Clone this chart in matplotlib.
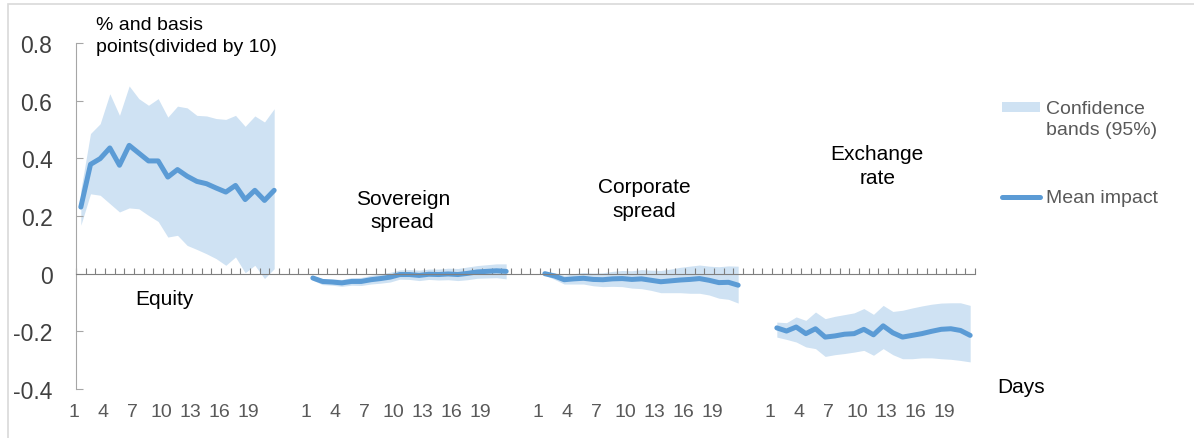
import numpy as np
import matplotlib
matplotlib.use("Agg")
import matplotlib.pyplot as plt
from matplotlib.patches import Rectangle
from matplotlib.lines import Line2D
from matplotlib.transforms import ScaledTranslation

plt.rcParams['font.family'] = ['Liberation Sans', 'DejaVu Sans']

# 数据
days = list(range(1, 22))
tick_days = [1, 4, 7, 10, 13, 16, 19]
panels = ['Equity', 'Sovereign\nspread', 'Corporate\nspread', 'Exchange\nrate']

equity_mean = [0.231, 0.379, 0.399, 0.436, 0.376, 0.445, 0.418, 0.391, 0.391, 0.335, 0.361,
               0.338, 0.320, 0.312, 0.297, 0.283, 0.306, 0.257, 0.289, 0.254, 0.289]
equity_upper = [0.290, 0.486, 0.520, 0.624, 0.549, 0.651, 0.607, 0.584, 0.607, 0.543, 0.581,
                0.575, 0.549, 0.547, 0.538, 0.535, 0.549, 0.511, 0.547, 0.526, 0.572]
equity_lower = [0.168, 0.277, 0.272, 0.243, 0.214, 0.228, 0.225, 0.202, 0.181, 0.127, 0.133,
                0.098, 0.084, 0.069, 0.052, 0.029, 0.058, 0.003, 0.029, -0.017, 0.017]

sov_mean = [-0.015, -0.027, -0.029, -0.032, -0.027, -0.027, -0.021, -0.017, -0.012, -0.003, -0.003,
            -0.006, -0.002, -0.003, -0.001, -0.003, 0.001, 0.006, 0.008, 0.010, 0.008]
sov_upper = [-0.007, -0.017, -0.018, -0.020, -0.014, -0.013, -0.006, -0.001, 0.005, 0.013, 0.014,
             0.012, 0.016, 0.016, 0.019, 0.018, 0.023, 0.028, 0.031, 0.034, 0.034]
sov_lower = [-0.023, -0.038, -0.040, -0.044, -0.040, -0.041, -0.036, -0.033, -0.029, -0.019, -0.020,
             -0.024, -0.020, -0.022, -0.021, -0.024, -0.021, -0.016, -0.015, -0.014, -0.018]

corp_mean = [0.000, -0.008, -0.021, -0.018, -0.016, -0.020, -0.021, -0.018, -0.017, -0.020, -0.018,
             -0.023, -0.028, -0.025, -0.022, -0.020, -0.017, -0.023, -0.031, -0.030, -0.040]
corp_upper = [0.005, 0.004, -0.006, 0.000, 0.004, 0.002, 0.003, 0.008, 0.011, 0.010, 0.014,
              0.012, 0.011, 0.016, 0.022, 0.026, 0.030, 0.026, 0.024, 0.027, 0.026]
corp_lower = [-0.005, -0.020, -0.036, -0.036, -0.036, -0.042, -0.045, -0.044, -0.045, -0.050, -0.052,
              -0.058, -0.066, -0.066, -0.066, -0.068, -0.068, -0.074, -0.085, -0.089, -0.102]

fx_mean = [-0.188, -0.199, -0.185, -0.208, -0.191, -0.220, -0.216, -0.210, -0.208, -0.193, -0.212,
           -0.181, -0.205, -0.220, -0.214, -0.208, -0.200, -0.193, -0.191, -0.197, -0.214]
fx_upper = [-0.168, -0.170, -0.150, -0.162, -0.133, -0.156, -0.148, -0.142, -0.136, -0.121, -0.141,
            -0.110, -0.131, -0.127, -0.119, -0.112, -0.106, -0.102, -0.101, -0.101, -0.110]
fx_lower = [-0.220, -0.228, -0.237, -0.254, -0.260, -0.287, -0.281, -0.277, -0.272, -0.266, -0.283,
            -0.260, -0.281, -0.295, -0.295, -0.292, -0.292, -0.295, -0.297, -0.301, -0.306]

means = [equity_mean, sov_mean, corp_mean, fx_mean]
uppers = [equity_upper, sov_upper, corp_upper, fx_upper]
lowers = [equity_lower, sov_lower, corp_lower, fx_lower]

# 版面参数
blue = '#5B9BD5'
band = '#CFE2F3'
axis_grey = '#A6A6A6'
label_grey = '#595959'
group_width = len(days) + 3   # 每组21天，中间空3格
n_slots = 4 * len(days) + 3 * 3

W, H = 1194, 439
fig = plt.figure(figsize=(W / 100, H / 100), dpi=100)
ax = fig.add_axes([76 / W, 1 - 390 / H, 899 / W, 346 / H])

# 外框
fig.patches.append(Rectangle((8 / W, -0.1), 1.2, 1.1 - 5 / H, transform=fig.transFigure,
                             fill=False, edgecolor='#D9D9D9', linewidth=1.2))

tick_pos = []
tick_lab = []
for g in range(4):
    start = g * group_width
    x = [start + d - 1 for d in days]
    ax.fill_between(x, lowers[g], uppers[g], color=band, linewidth=0)
    ax.plot(x, means[g], color=blue, linewidth=3.6, solid_capstyle='round', solid_joinstyle='round')
    for d in tick_days:
        tick_pos.append(start + d - 1)
        tick_lab.append(str(d))

ax.set_xlim(-0.5, n_slots - 0.5)
ax.set_ylim(-0.4, 0.8)

# 坐标轴样式
for s in ['top', 'right']:
    ax.spines[s].set_visible(False)
ax.spines['left'].set_color(axis_grey)
ax.spines['bottom'].set_color('#7F7F7F')
ax.spines['bottom'].set_position(('data', 0))

ax.set_yticks([-0.4, -0.2, 0, 0.2, 0.4, 0.6, 0.8])
ax.set_yticklabels(['-0.4', '-0.2', '0', '0.2', '0.4', '0.6', '0.8'])
ax.tick_params(axis='y', direction='in', length=5, color=axis_grey, pad=17,
               labelsize=16.5, labelcolor='#404040')

ax.set_xticks(np.arange(-0.5, n_slots, 1.0))
ax.tick_params(axis='x', direction='in', length=4, color='#7F7F7F', labelbottom=False)

sec = ax.secondary_xaxis('bottom')
sec.set_xticks(tick_pos)
sec.set_xticklabels(tick_lab)
sec.spines['bottom'].set_visible(False)
sec.tick_params(length=0, pad=10, labelsize=14, labelcolor=label_grey)
# 标签略向左偏（与原图一致）
shift = ScaledTranslation(-0.065, 0, fig.dpi_scale_trans)
for lab in sec.get_xticklabels():
    lab.set_transform(lab.get_transform() + shift)

# 面板标注
label_xy = [(8.7, -0.087), (33.3, 0.22), (58.3, 0.26), (82.4, 0.376)]
for name, (lx, ly) in zip(panels, label_xy):
    ax.text(lx, ly, name, ha='center', va='center', fontsize=15, linespacing=1.3,
            color='black')

fig.text(96 / W, 1 - 17 / H, '% and basis\npoints(divided by 10)', ha='left', va='top',
         fontsize=14, linespacing=1.35, color='black')
fig.text(997 / W, 1 - 388 / H, 'Days', ha='left', va='center', fontsize=15, color='black')

# 图例（手动放置）
fig.patches.append(Rectangle((1002 / W, 1 - 113 / H), 38 / W, 10 / H, transform=fig.transFigure,
                             facecolor=band, edgecolor='none'))
fig.lines.append(Line2D([1002 / W, 1040 / W], [1 - 198 / H, 1 - 198 / H], transform=fig.transFigure,
                        color=blue, linewidth=3.6, solid_capstyle='round'))
fig.text(1046 / W, 1 - 101 / H, 'Confidence\nbands (95%)', ha='left', va='top', fontsize=14,
         linespacing=1.3, color=label_grey)
fig.text(1046 / W, 1 - 199 / H, 'Mean impact', ha='left', va='center', fontsize=14,
         color=label_grey)

fig.savefig('out.png', dpi=100)
